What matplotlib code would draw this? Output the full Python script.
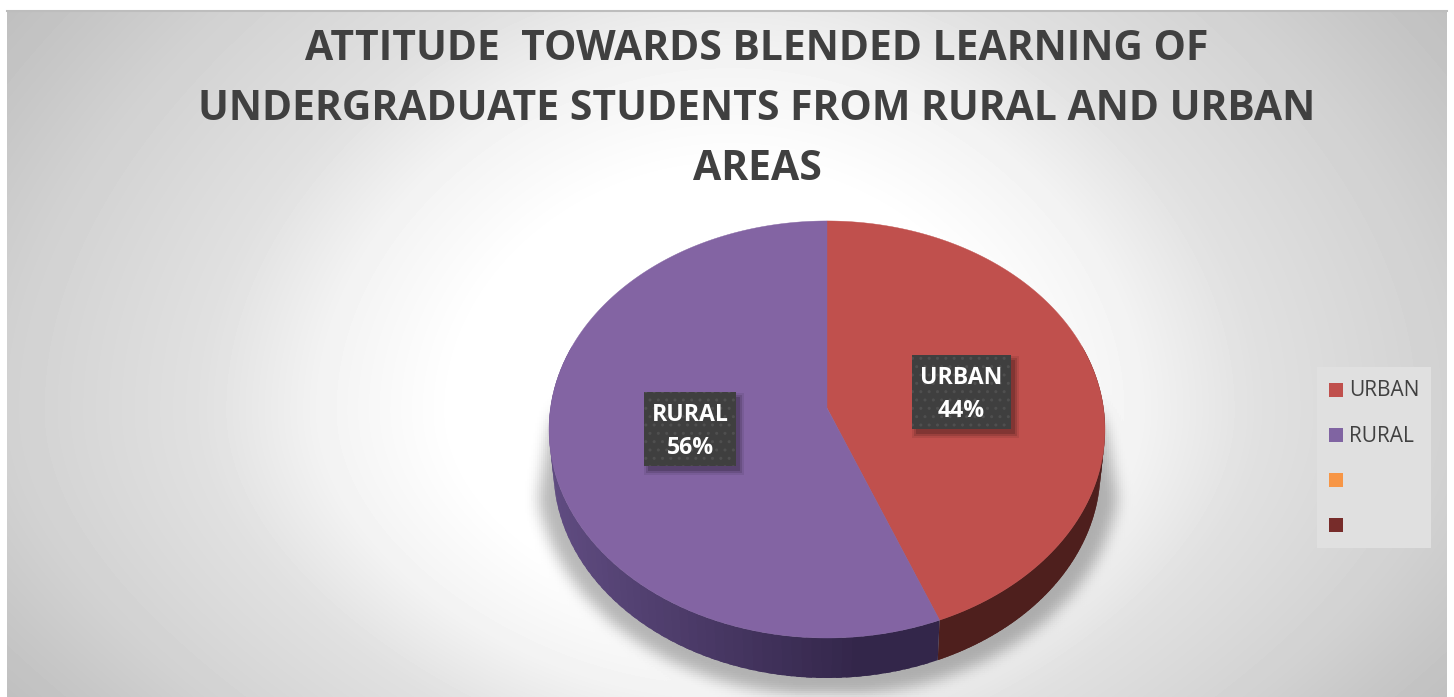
import numpy as np
import matplotlib
matplotlib.use('Agg')
import matplotlib.pyplot as plt
from matplotlib.patches import Rectangle
from matplotlib.colors import to_rgb

title_lines = ['ATTITUDE  TOWARDS BLENDED LEARNING OF',
               'UNDERGRADUATE STUDENTS FROM RURAL AND URBAN',
               'AREAS']
title_y = [47, 107, 166]

categories = ['URBAN', 'RURAL']
values = [44, 56]
top_colors = ['#c0504d', '#8364a3']

legend_labels = ['URBAN', 'RURAL', '', '']
legend_colors = ['#c0504d', '#8064a2', '#f79646', '#772c2a']
legend_y = [390, 435, 480, 525]

W, H = 1454, 697
plt.rcParams['font.family'] = ['Open Sans', 'DejaVu Sans']

fig = plt.figure(figsize=(W / 100, H / 100), dpi=100, facecolor='white')
ax = fig.add_axes([0, 0, 1, 1])
# one axis unit = one pixel, y going down like the picture
ax.set_xlim(0, W)
ax.set_ylim(H, 0)
ax.axis('off')

# background gradient, all four corners end up the same grey
left, right, top, bottom = 7, 1447, 11, 697
yy, xx = np.mgrid[top:bottom, left:right]
dx = (xx - 730) / 723
dy = np.where(yy < 410, (yy - 410) / 399, (yy - 410) / 287)
w = np.where(yy < 410, 0.25, 0.2)
r = np.sqrt(0.62 * dx ** 2 + w * dy ** 2 + (0.38 - w) * dx ** 2 * dy ** 2)
grey = np.interp(r, [0.0, 0.3, 0.45, 0.575, 0.79, 0.9, 1.0], [1.0, 1.0, 0.95, 0.88, 0.82, 0.78, 0.75])


def blur(a, n):
    # plain box blur, three passes
    k = np.ones(n) / n
    for _ in range(3):
        a = np.apply_along_axis(lambda m: np.convolve(m, k, mode='same'), 0, a)
        a = np.apply_along_axis(lambda m: np.convolve(m, k, mode='same'), 1, a)
    return a


# grey shadow under the pie, tapering up the sides
step = 2
s = ((xx - 827) / 292) ** 2 + ((yy - 470) / 225) ** 2 < 1
s = s & (np.abs(xx - 827) < 276 + np.clip(yy - 415, 0, None) * 0.17)
s = s.astype(float) * np.clip((yy - 400) / 30, 0, 1)
shad = blur(s[::step, ::step], 7)
shad = np.kron(shad, np.ones((step, step)))[:grey.shape[0], :grey.shape[1]]
grey = grey * (1 - 0.28 * shad)
ax.imshow(grey, cmap='gray', vmin=0, vmax=1, extent=(left, right, bottom, top),
          aspect='auto', interpolation='bilinear', zorder=0)
ax.set_xlim(0, W)
ax.set_ylim(H, 0)
ax.plot([left, right], [top, top], color='#bdbdbd', lw=1.5, zorder=1)

# pie in perspective: apex above the middle of the ellipse
cx, cy = 827, 408
A, B, k, depth = 206.3, 276.5, 0.103, 40


def rim(theta, drop=0):
    # theta clockwise from 12 o'clock
    u, v = np.sin(theta), np.cos(theta)
    d = 1 + k * v
    shrink = 1 - 0.016 * drop / depth
    return cx + B * u / d * shrink, cy - A * v / d + drop


fractions = np.array(values) / np.sum(values)
edges = np.concatenate([[0], np.cumsum(fractions)]) * 2 * np.pi


def side_color(x, i):
    if i == 0:
        return np.array(to_rgb('#4e1f1d'))
    t = np.clip((x - 555) / 300, 0, 1)
    return np.array(to_rgb('#5f4b80')) * (1 - t) + np.array(to_rgb('#33264a')) * t


# side wall, drawn past the top face so no seams show at the ends
for i in range(len(values)):
    a0, a1 = edges[i], edges[i + 1]
    vis0, vis1 = max(a0, np.pi * 0.40), min(a1, np.pi * 1.60)
    if vis1 <= vis0:
        continue
    steps = np.linspace(vis0, vis1, 70)
    for n, (p, q) in enumerate(zip(steps[:-1], steps[1:])):
        # each piece overlaps the next one
        th = np.linspace(p, min(q + 0.02, vis1), 4)
        x1, y1 = rim(th)
        x2, y2 = rim(th[::-1], depth)
        ax.fill(np.r_[x1, x2], np.r_[y1, y2], color=side_color(x1.mean(), i), lw=0, zorder=2)

# top face
for i in range(len(values)):
    th = np.linspace(edges[i], edges[i + 1], 300)
    x, y = rim(th)
    ax.fill(np.r_[cx, x], np.r_[cy, y], color=top_colors[i], lw=0.3, ec=top_colors[i], zorder=3)

# data labels
label_pos = [(961.5, 392), (690, 429)]
label_w = [99, 92]
for i in range(len(values)):
    lx, ly = label_pos[i]
    w_box, h_box = label_w[i], 74
    for grow, a in [(0, 0.16), (2, 0.12), (4, 0.08)]:
        ax.add_patch(Rectangle((lx - w_box / 2 + 4 - grow, ly - h_box / 2 + 5 - grow),
                               w_box + 2 * grow, h_box + 2 * grow,
                               fc='black', ec='none', alpha=a, zorder=4))
    ax.add_patch(Rectangle((lx - w_box / 2, ly - h_box / 2), w_box, h_box, fc='#3f3f3f', ec='none', zorder=5))
    ax.add_patch(Rectangle((lx - w_box / 2, ly - h_box / 2), w_box, h_box, fc='none', ec='#4f4f4f', lw=0,
                           hatch='..', zorder=5))
    ax.text(lx, ly - 14, categories[i], color='white', fontsize=16.6, fontweight='bold',
            ha='center', va='center', zorder=6)
    ax.text(lx, ly + 19, '%d%%' % values[i], color='white', fontsize=16.6, fontweight='bold',
            ha='center', va='center', zorder=6)

# title
for line, y in zip(title_lines, title_y):
    ax.text(757, y + 3, line, color='#404040', fontsize=29.4, fontweight='bold',
            ha='center', va='center', zorder=6)

# legend
ax.add_patch(Rectangle((1317, 367), 114, 181, fc='#e0e0e0', ec='none', zorder=4))
for lab, col, y in zip(legend_labels, legend_colors, legend_y):
    ax.add_patch(Rectangle((1329, y - 7), 14, 14, fc=col, ec='none', zorder=5))
    if lab:
        ax.text(1349, y + 1, lab, color='#404040', fontsize=15, ha='left', va='center', zorder=6)

fig.savefig('out.png', dpi=100)
